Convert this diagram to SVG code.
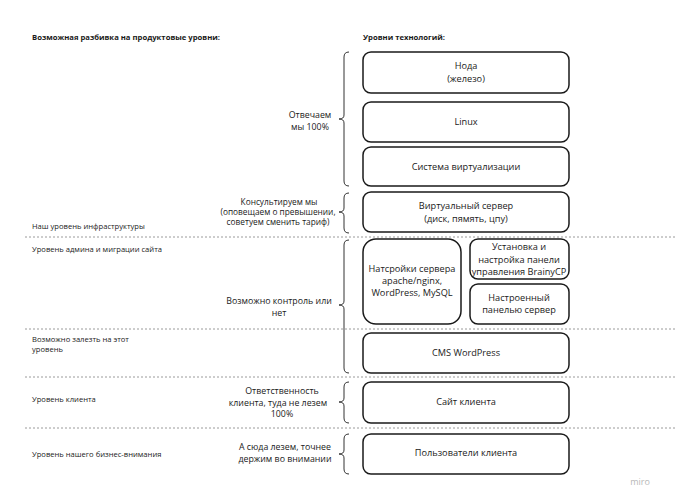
<svg xmlns="http://www.w3.org/2000/svg" width="676" height="500" viewBox="0 0 676 500">
<style>
  text { font-family: "Open Sans", "Noto Sans", "Liberation Sans", sans-serif; fill: #1a1a1a; }
  .title { font-size: 7.7px; font-weight: bold; }
  .side { font-size: 7.6px; }
  .note { font-size: 8.8px; text-anchor: middle; }
  .note2 { font-size: 8.3px; text-anchor: middle; }
  .bt { font-size: 9.2px; text-anchor: middle; }
  .box { fill: #ffffff; stroke: #1a1a1a; stroke-width: 1.5; }
  .brace { fill: none; stroke: #333; stroke-width: 1; }
  .dash { stroke: #9a9a9a; stroke-width: 1; stroke-dasharray: 2 2; }
</style>
<rect width="676" height="500" fill="#ffffff"/>

<g id="titles">
  <text class="title" x="32" y="40">Возможная разбивка на продуктовые уровни:</text>
  <text class="title" x="363" y="40">Уровни технологий:</text>
</g>

<g id="separators">
  <line class="dash" x1="25" y1="237" x2="676" y2="237"/>
  <line class="dash" x1="25" y1="329" x2="676" y2="329"/>
  <line class="dash" x1="25" y1="377" x2="676" y2="377"/>
  <line class="dash" x1="25" y1="428" x2="676" y2="428"/>
</g>

<g id="side-labels">
  <text class="side" x="32" y="229">Наш уровень инфраструктуры</text>
  <text class="side" x="32" y="252">Уровень админа и миграции сайта</text>
  <text class="side" x="32" y="342">Возможно залезть на этот</text>
  <text class="side" x="32" y="352">уровень</text>
  <text class="side" x="32" y="402">Уровень клиента</text>
  <text class="side" x="32" y="457">Уровень нашего бизнес-внимания</text>
</g>

<g id="connectors">
  <path class="brace" d="M349,52 Q344,52 344,57 L344,115 Q344,119 339,119 Q344,119 344,123 L344,181 Q344,186 349,186"/>
  <path class="brace" d="M349,193 Q344,193 344,198 L344,208 Q344,212 339,212 Q344,212 344,216 L344,228 Q344,233 349,233"/>
  <path class="brace" d="M349,240 Q344,240 344,245 L344,301 Q344,305 339,305 Q344,305 344,309 L344,368 Q344,373 349,373"/>
  <path class="brace" d="M349,382 Q344,382 344,387 L344,398 Q344,402 339,402 Q344,402 344,406 L344,418 Q344,423 349,423"/>
  <path class="brace" d="M349,434 Q344,434 344,439 L344,450 Q344,454 339,454 Q344,454 344,458 L344,469 Q344,474 349,474"/>
</g>

<g id="brace-labels">
  <text class="note" x="310" y="118">Отвечаем</text>
  <text class="note" x="310" y="130">мы 100%</text>
  <text class="note2" x="279" y="205">Консультируем мы</text>
  <text class="note2" x="278" y="215">(оповещаем о превышении,</text>
  <text class="note2" x="278" y="225">советуем сменить тариф)</text>
  <text class="note" x="279" y="303.5">Возможно контроль или</text>
  <text class="note" x="279" y="315.5">нет</text>
  <text class="note" x="282" y="393.5">Ответственность</text>
  <text class="note" x="278" y="405.5">клиента, туда не лезем</text>
  <text class="note" x="282" y="417">100%</text>
  <text class="note" x="285" y="449.5">А сюда лезем, точнее</text>
  <text class="note" x="285" y="461.5">держим во внимании</text>
</g>

<g id="node-noda">
  <rect class="box" x="363" y="52" width="206" height="41" rx="8"/>
  <text class="bt" x="466" y="69">Нода</text>
  <text class="bt" x="466" y="82">(железо)</text>
</g>
<g id="node-linux">
  <rect class="box" x="363" y="102" width="206" height="40" rx="8"/>
  <text class="bt" x="466" y="125">Linux</text>
</g>
<g id="node-virt">
  <rect class="box" x="363" y="147" width="206" height="39" rx="8"/>
  <text class="bt" x="466" y="170">Система виртуализации</text>
</g>
<g id="node-vps">
  <rect class="box" x="363" y="192" width="206" height="40" rx="8"/>
  <text class="bt" x="466" y="209">Виртуальный сервер</text>
  <text class="bt" x="466" y="222">(диск, пямять, цпу)</text>
</g>
<g id="node-settings">
  <rect class="box" x="363" y="239" width="98" height="85" rx="13"/>
  <text class="bt" x="412" y="272">Натсройки сервера</text>
  <text class="bt" x="412" y="284">apache/nginx,</text>
  <text class="bt" x="412" y="296">WordPress, MySQL</text>
</g>
<g id="node-brainy">
  <rect class="box" x="470" y="239" width="99" height="40" rx="8"/>
  <text class="bt" x="519" y="250">Установка и</text>
  <text class="bt" x="519" y="263">настройка панели</text>
  <text class="bt" x="519" y="275">управления BrainyCP</text>
</g>
<g id="node-panel">
  <rect class="box" x="470" y="284" width="99" height="40" rx="8"/>
  <text class="bt" x="519" y="301">Настроенный</text>
  <text class="bt" x="519" y="313">панелью сервер</text>
</g>
<g id="node-cms">
  <rect class="box" x="363" y="333" width="206" height="40" rx="8"/>
  <text class="bt" x="466" y="356">CMS WordPress</text>
</g>
<g id="node-site">
  <rect class="box" x="363" y="382" width="206" height="41" rx="8"/>
  <text class="bt" x="466" y="405">Сайт клиента</text>
</g>
<g id="node-users">
  <rect class="box" x="363" y="434" width="206" height="40" rx="8"/>
  <text class="bt" x="466" y="456">Пользователи клиента</text>
</g>

<text x="640" y="485" style="font-size:9px; fill:#b8b8b8; text-anchor:middle">miro</text>
</svg>
